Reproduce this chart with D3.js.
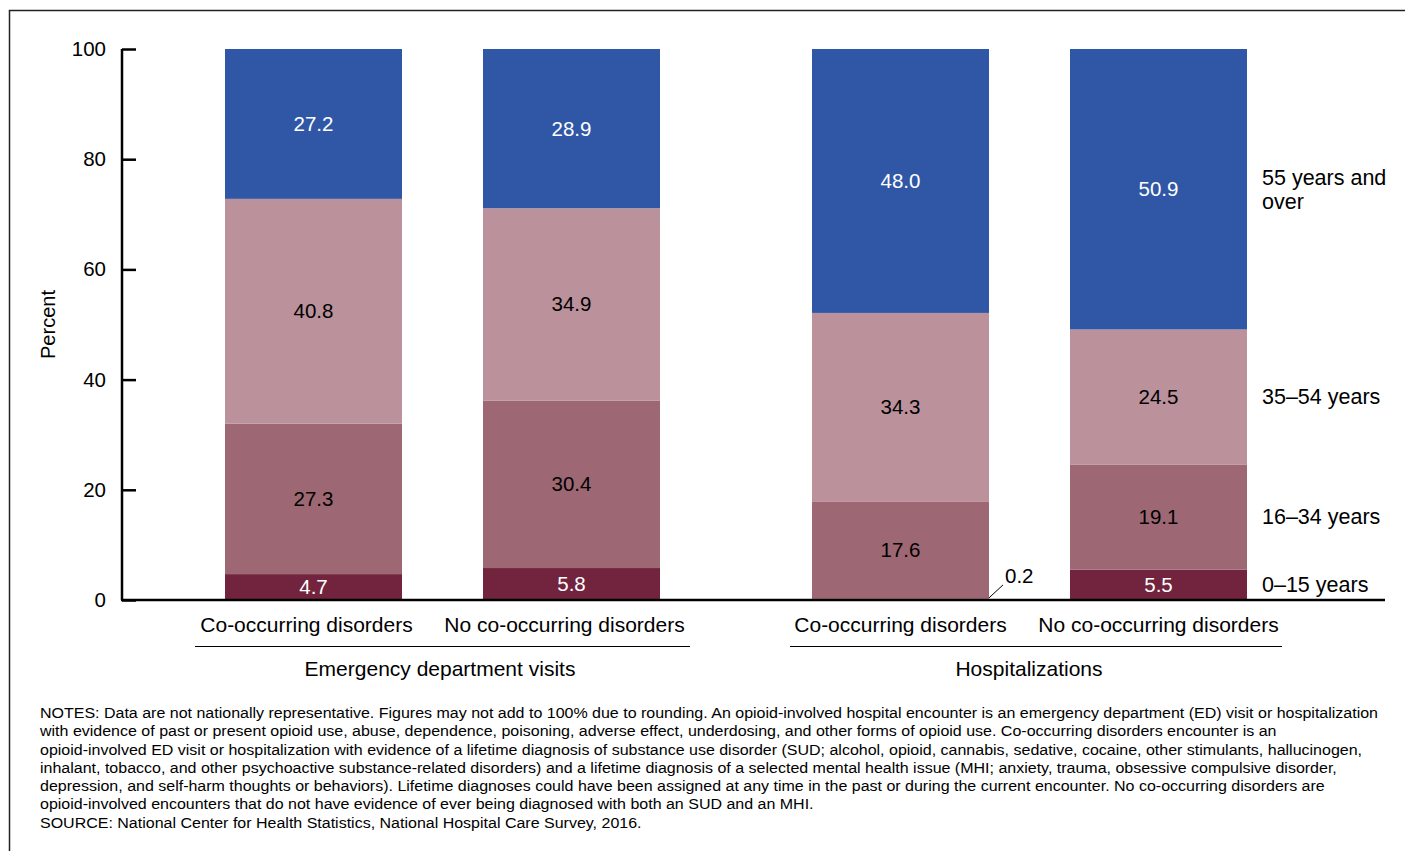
<!DOCTYPE html>
<html><head><meta charset="utf-8">
<script src="https://cdn.jsdelivr.net/npm/d3@7"></script>
<style>body{margin:0;background:#fff}svg{display:block}text{font-family:"Liberation Sans",Arial,sans-serif}</style>
</head><body><svg id="c" width="1405" height="851"></svg>
<script>
const groups = ["Emergency department visits", "Hospitalizations"];
const categories = ["Co-occurring disorders", "No co-occurring disorders"];
const ageGroups = ["0\u201315 years", "16\u201334 years", "35\u201354 years", "55 years and over"];
const ed_co = [4.7, 27.3, 40.8, 27.2];
const ed_no = [5.8, 30.4, 34.9, 28.9];
const hosp_co = [0.2, 17.6, 34.3, 48.0];
const hosp_no = [5.5, 19.1, 24.5, 50.9];
const yTicks = [0, 20, 40, 60, 80, 100];
const notes = [
"NOTES: Data are not nationally representative. Figures may not add to 100% due to rounding. An opioid-involved hospital encounter is an emergency department (ED) visit or hospitalization",
"with evidence of past or present opioid use, abuse, dependence, poisoning, adverse effect, underdosing, and other forms of opioid use. Co-occurring disorders encounter is an",
"opioid-involved ED visit or hospitalization with evidence of a lifetime diagnosis of substance use disorder (SUD; alcohol, opioid, cannabis, sedative, cocaine, other stimulants, hallucinogen,",
"inhalant, tobacco, and other psychoactive substance-related disorders) and a lifetime diagnosis of a selected mental health issue (MHI; anxiety, trauma, obsessive compulsive disorder,",
"depression, and self-harm thoughts or behaviors). Lifetime diagnoses could have been assigned at any time in the past or during the current encounter. No co-occurring disorders are",
"opioid-involved encounters that do not have evidence of ever being diagnosed with both an SUD and an MHI.",
"SOURCE: National Center for Health Statistics, National Hospital Care Survey, 2016."
];

const bars = [
  {group: 0, cat: 0, vals: ed_co},
  {group: 0, cat: 1, vals: ed_no},
  {group: 1, cat: 0, vals: hosp_co},
  {group: 1, cat: 1, vals: hosp_no}
];
const colors = ["#72233d", "#9d6774", "#bb919b", "#3057a6"];
const labelColors = ["#fff", "#000", "#000", "#fff"];

const svg = d3.select("#c");
svg.append("rect").attr("x", 9.5).attr("y", 10.5).attr("width", 1500).attr("height", 900)
  .attr("fill", "none").attr("stroke", "#222").attr("stroke-width", 1.5);

const y = d3.scaleLinear().domain([0, 100]).range([600, 49]);
// band scale per group, groups placed side by side
const gx = d3.scaleBand().domain([0, 1]).range([225, 1247 + 1247 - 1070 - 177 + 0]).paddingInner(0);
const groupStart = [225, 812];
const xi = d3.scaleBand().domain([0, 1]).range([0, 435]).paddingInner(81 / 258);
const barX = i => groupStart[bars[i].group] + xi(bars[i].cat);
const bw = xi.bandwidth();

const FS = 21;
bars.forEach((b, i) => {
  let acc = 0;
  const segs = b.vals.map((v, k) => { const s = {y0: acc, y1: acc + v, v, k}; acc += v; return s; });
  const g = svg.append("g");
  g.selectAll("rect").data(segs).join("rect")
    .attr("x", barX(i)).attr("width", bw)
    .attr("y", d => y(Math.min(d.y1, 100))).attr("height", d => y(d.y0) - y(Math.min(d.y1, 100)))
    .attr("fill", d => colors[d.k]);
  g.selectAll("text").data(segs.filter(d => d.v >= 1)).join("text")
    .attr("x", barX(i) + bw / 2).attr("y", d => y((d.y0 + Math.min(d.y1, 100)) / 2) + 7)
    .attr("text-anchor", "middle").attr("font-size", 20.5)
    .attr("fill", d => labelColors[d.k]).text(d => d.v.toFixed(1));
  segs.filter(d => d.v < 1).forEach(d => {
    const x0 = barX(i) + bw;
    svg.append("line").attr("x1", x0).attr("y1", y(d.y1) - 1).attr("x2", x0 + 14).attr("y2", y(d.y1) - 14)
      .attr("stroke", "#000").attr("stroke-width", 1);
    svg.append("text").attr("x", x0 + 16).attr("y", y(d.y1) - 16).attr("font-size", 20.5).text(d.v.toFixed(1));
  });
});

// y axis
const yAxis = d3.axisRight(y).tickValues(yTicks).tickSize(14).tickFormat("");
const ga = svg.append("g").attr("transform", "translate(122,0)").call(yAxis);
ga.select(".domain").attr("stroke-width", 2.5).attr("d", `M0,${y(100)}V${y(0)}`);
ga.selectAll(".tick line").attr("stroke-width", 2.5);
svg.selectAll(".ytl").data(yTicks).join("text").attr("class", "ytl")
  .attr("x", 106).attr("y", d => y(d) + 7).attr("text-anchor", "end").attr("font-size", 20.5).text(d => d);
svg.append("text").attr("transform", `translate(55,${y(50)}) rotate(-90)`)
  .attr("text-anchor", "middle").attr("font-size", 20).text("Percent");

// x axis baseline
svg.append("line").attr("x1", 121).attr("x2", 1385).attr("y1", 600).attr("y2", 600)
  .attr("stroke", "#000").attr("stroke-width", 2.5);

// category labels
const catOffset = [-7, 0];
bars.forEach((b, i) => {
  svg.append("text").attr("x", barX(i) + bw / 2 + catOffset[b.group]).attr("y", 632)
    .attr("text-anchor", "middle").attr("font-size", FS).text(categories[b.cat]);
});
// group lines & labels
const gLines = [[195, 690], [790, 1282]];
const gLabX = [440, 1029];
groups.forEach((gname, gi) => {
  svg.append("line").attr("x1", gLines[gi][0]).attr("x2", gLines[gi][1]).attr("y1", 646.5).attr("y2", 646.5)
    .attr("stroke", "#000").attr("stroke-width", 1);
  svg.append("text").attr("x", gLabX[gi]).attr("y", 676).attr("text-anchor", "middle")
    .attr("font-size", FS).text(gname);
});

// legend labels aligned to last bar
const last = hosp_no;
let acc = 0;
const legPos = last.map(v => { const c = acc + v / 2; acc += v; return c; });
ageGroups.forEach((lab, k) => {
  const t = svg.append("text").attr("x", 1262).attr("font-size", 21.5);
  if (k === 3) {
    t.attr("y", y(legPos[k]) - 4);
    t.append("tspan").attr("x", 1262).text("55 years and");
    t.append("tspan").attr("x", 1262).attr("dy", 24).text("over");
  } else {
    t.attr("y", y(legPos[k]) + 7).text(lab);
  }
});

// notes
const ng = svg.append("g").attr("transform", "translate(40,0) scale(1.067,1)");
ng.selectAll(".note").data(notes).join("text").attr("class", "note")
  .attr("x", 0).attr("y", (d, i) => 718 + i * 18.3).attr("font-size", 15).text(d => d);
</script></body></html>
